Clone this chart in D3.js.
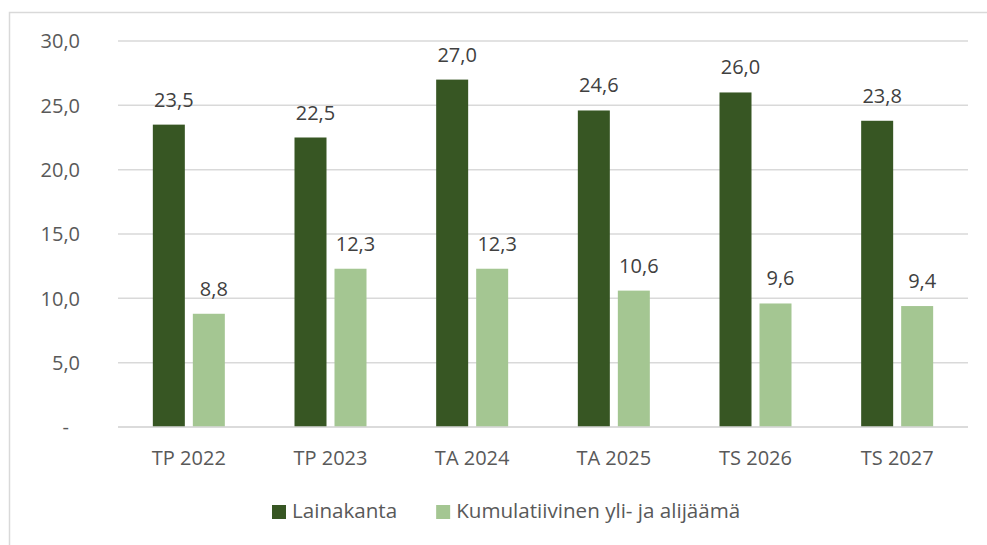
<!DOCTYPE html>
<html>
<head>
<meta charset="utf-8">
<script src="https://cdn.jsdelivr.net/npm/d3@7"></script>
<style>
  html, body { margin: 0; padding: 0; background: #fff; }
  svg { display: block; }
  text { font-family: "Open Sans", sans-serif; }
</style>
</head>
<body>
<svg id="chart" width="987" height="545"></svg>
<script>
const categories = ["TP 2022", "TP 2023", "TA 2024", "TA 2025", "TS 2026", "TS 2027"];
const seriesNames = ["Lainakanta", "Kumulatiivinen yli- ja alijäämä"];
const lainakanta = [23.5, 22.5, 27.0, 24.6, 26.0, 23.8];
const kumulatiivinen = [8.8, 12.3, 12.3, 10.6, 9.6, 9.4];
const yTicks = [0, 5, 10, 15, 20, 25, 30];
const colors = ["#375623", "#a4c692"];

const seriesValues = [lainakanta, kumulatiivinen];
const fmt = v => v.toFixed(1).replace(".", ",");

const svg = d3.select("#chart");

// outer frame (extends beyond the picture on the right/bottom)
svg.append("path")
  .attr("d", "M9.5,545 L9.5,12.5 L987,12.5")
  .attr("fill", "none")
  .attr("stroke", "#d9d9d9")
  .attr("stroke-width", 1.5);

const plotLeft = 118, plotRight = 968, plotTop = 41, plotBottom = 427;

const x = d3.scaleBand().domain(categories).range([plotLeft, plotRight]).paddingInner(0).paddingOuter(0);
const xs = d3.scaleBand().domain(seriesNames).range([-36, 36]).paddingInner(0.2).paddingOuter(0);
const y = d3.scaleLinear().domain([0, 30]).range([plotBottom, plotTop]);

// gridlines
svg.append("g").selectAll("line").data(yTicks).join("line")
  .attr("x1", plotLeft).attr("x2", plotRight)
  .attr("y1", d => y(d)).attr("y2", d => y(d))
  .attr("stroke", "#d9d9d9").attr("stroke-width", 1.5);

// y tick labels
svg.append("g").selectAll("text").data(yTicks).join("text")
  .attr("x", d => d === 0 ? 69 : 80)
  .attr("y", d => y(d))
  .attr("dy", "0.36em")
  .attr("text-anchor", "end")
  .attr("font-size", 20)
  .attr("fill", "#595959")
  .text(d => d === 0 ? "-" : fmt(d));

// bars
const data = [];
categories.forEach((c, i) => {
  seriesNames.forEach((s, j) => {
    data.push({ c, s, j, v: seriesValues[j][i] });
  });
});

svg.append("g").selectAll("rect").data(data).join("rect")
  .attr("x", d => x(d.c) + x.bandwidth() / 2 + xs(d.s))
  .attr("width", xs.bandwidth())
  .attr("y", d => y(d.v))
  .attr("height", d => y(0) - y(d.v))
  .attr("fill", d => colors[d.j]);

// data labels
svg.append("g").selectAll("text").data(data).join("text")
  .attr("x", d => x(d.c) + x.bandwidth() / 2 + xs(d.s) + xs.bandwidth() / 2 + 5)
  .attr("y", d => y(d.v) - 18)
  .attr("text-anchor", "middle")
  .attr("font-size", 20)
  .attr("fill", "#404040")
  .text(d => fmt(d.v));

// baseline
svg.append("line")
  .attr("x1", plotLeft).attr("x2", plotRight)
  .attr("y1", y(0)).attr("y2", y(0))
  .attr("stroke", "#d9d9d9").attr("stroke-width", 1.5);

// category labels
svg.append("g").selectAll("text").data(categories).join("text")
  .attr("x", d => x(d) + x.bandwidth() / 2)
  .attr("y", 465)
  .attr("text-anchor", "middle")
  .attr("font-size", 20)
  .attr("fill", "#595959")
  .text(d => d);

// legend
const lg = svg.append("g");
let lx = 272;
seriesNames.forEach((s, j) => {
  lg.append("rect").attr("x", lx).attr("y", 505).attr("width", 14).attr("height", 14).attr("fill", colors[j]);
  const t = lg.append("text").attr("x", lx + 20).attr("y", 518)
    .attr("font-size", 20.6).attr("fill", "#595959").text(s);
  lx += 20 + t.node().getComputedTextLength() + 39;
});
</script>
</body>
</html>
